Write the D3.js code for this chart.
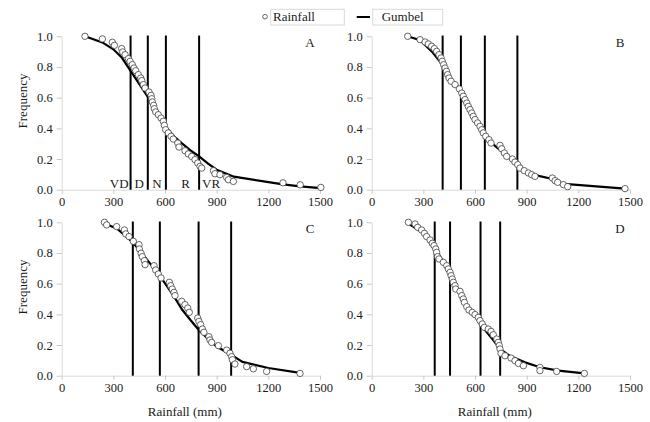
<!DOCTYPE html>
<html>
<head>
<meta charset="utf-8">
<script src="https://cdn.jsdelivr.net/npm/d3@7"></script>
<style>
body { margin: 0; background: #fff; }
svg text { font-family: "Liberation Serif", "Times New Roman", "DejaVu Serif", serif; fill: #1a1a1a; }
</style>
</head>
<body>
<div id="chart"></div>
<script>
// observed rainfall [mm, exceedance frequency] per station
var rainA = [[135,1.0],[236,0.983],[294,0.961],[306,0.941],[348,0.92],[354,0.898],[368,0.88],[387,0.854],[397,0.837],[410,0.815],[420,0.793],[430,0.776],[445,0.75],[459,0.728],[465,0.711],[474,0.685],[484,0.663],[507,0.637],[519,0.615],[523,0.593],[526,0.572],[534,0.55],[538,0.528],[546,0.507],[561,0.489],[577,0.467],[590,0.446],[596,0.42],[604,0.391],[619,0.37],[635,0.348],[648,0.33],[674,0.304],[681,0.278],[716,0.254],[735,0.233],[755,0.217],[774,0.196],[790,0.174],[803,0.152],[813,0.141],[881,0.124],[890,0.104],[919,0.098],[958,0.08],[968,0.065],[997,0.054],[1285,0.045],[1385,0.032],[1505,0.015]];
var rainB = [[209,1.0],[281,0.978],[310,0.963],[329,0.95],[348,0.935],[364,0.92],[377,0.902],[391,0.88],[403,0.859],[410,0.837],[418,0.815],[426,0.793],[434,0.772],[441,0.75],[449,0.728],[461,0.707],[484,0.685],[509,0.657],[523,0.63],[532,0.609],[542,0.587],[552,0.565],[561,0.543],[571,0.522],[581,0.5],[590,0.478],[600,0.457],[615,0.435],[629,0.413],[639,0.391],[648,0.37],[662,0.348],[681,0.326],[693,0.304],[745,0.289],[755,0.267],[770,0.239],[784,0.217],[817,0.2],[832,0.18],[848,0.163],[861,0.141],[886,0.124],[910,0.109],[929,0.098],[948,0.087],[1049,0.076],[1065,0.059],[1080,0.048],[1113,0.033],[1138,0.02],[1471,0.007]];
var rainC = [[248,1.0],[261,0.983],[319,0.972],[364,0.95],[372,0.924],[391,0.907],[416,0.876],[449,0.854],[451,0.826],[461,0.798],[468,0.776],[480,0.75],[484,0.724],[536,0.717],[546,0.689],[561,0.663],[577,0.637],[625,0.609],[633,0.587],[642,0.565],[652,0.543],[658,0.522],[697,0.485],[716,0.463],[732,0.441],[741,0.413],[790,0.376],[797,0.354],[807,0.333],[817,0.304],[826,0.283],[855,0.254],[861,0.233],[871,0.217],[910,0.196],[958,0.167],[977,0.146],[987,0.124],[991,0.104],[1006,0.076],[1074,0.059],[1113,0.045],[1190,0.028],[1384,0.015]];
var rainD = [[213,1.0],[252,0.989],[267,0.967],[290,0.95],[306,0.928],[319,0.907],[339,0.885],[352,0.863],[362,0.848],[372,0.826],[377,0.804],[383,0.776],[391,0.761],[416,0.739],[436,0.717],[445,0.696],[455,0.674],[461,0.652],[468,0.63],[474,0.609],[484,0.587],[488,0.565],[513,0.55],[523,0.522],[532,0.5],[538,0.478],[552,0.45],[565,0.428],[584,0.413],[600,0.398],[619,0.38],[629,0.359],[642,0.337],[654,0.315],[677,0.304],[693,0.289],[706,0.267],[726,0.239],[735,0.217],[741,0.196],[745,0.174],[751,0.146],[774,0.13],[809,0.115],[832,0.098],[852,0.08],[881,0.065],[977,0.054],[977,0.033],[1074,0.028],[1235,0.015]];

// fitted Gumbel curves
var gumA = [[135,1.0],[236,0.96],[300,0.915],[350,0.86],[400,0.775],[450,0.69],[500,0.605],[550,0.505],[600,0.415],[650,0.35],[700,0.3],[750,0.255],[800,0.215],[850,0.17],[900,0.13],[1000,0.085],[1285,0.035],[1385,0.022],[1505,0.01]];
var gumB = [[209,1.0],[281,0.975],[350,0.9],[410,0.815],[450,0.73],[517,0.652],[550,0.58],[600,0.47],[656,0.35],[700,0.3],[750,0.255],[800,0.205],[846,0.16],[900,0.12],[950,0.095],[1050,0.07],[1100,0.04],[1471,0.007]];
var gumC = [[252,0.99],[320,0.96],[412,0.87],[450,0.82],[500,0.75],[569,0.652],[650,0.52],[700,0.43],[750,0.36],[795,0.3],[850,0.24],[900,0.19],[983,0.137],[1050,0.09],[1200,0.05],[1384,0.018]];
var gumD = [[215,0.99],[300,0.93],[362,0.84],[400,0.77],[453,0.69],[500,0.56],[550,0.46],[600,0.39],[629,0.337],[700,0.24],[745,0.175],[800,0.13],[890,0.087],[977,0.055],[1084,0.033],[1235,0.015]];

// class limits (mm)
var limA = [400, 500, 605, 798];
var limB = [412, 518, 657, 846];
var limC = [413, 570, 795, 984];
var limD = [366, 455, 632, 746];

var classNames = ["VD", "D", "N", "R", "VR"];
var xTicks = [0, 300, 600, 900, 1200, 1500];
var yTicks = [0, 0.2, 0.4, 0.6, 0.8, 1.0];

var serif = "'Liberation Serif', 'Times New Roman', 'DejaVu Serif', serif";
var pw = 258.3, ph = 153.4;

var panels = [
  {id: "A", pts: rainA, gum: gumA, lim: limA, left: 61.7, top: 36.3, yLab: true, xLab: false, classes: true},
  {id: "B", pts: rainB, gum: gumB, lim: limB, left: 371.7, top: 36.3, yLab: false, xLab: false, classes: false},
  {id: "C", pts: rainC, gum: gumC, lim: limC, left: 61.7, top: 222.3, yLab: true, xLab: true, classes: false},
  {id: "D", pts: rainD, gum: gumD, lim: limD, left: 371.7, top: 222.3, yLab: false, xLab: true, classes: false}
];

var svg = d3.select("#chart")
  .append("svg")
  .attr("width", 650)
  .attr("height", 422)
  .style("font-family", serif);

var x = d3.scaleLinear().domain([0, 1500]).range([0, pw]);
var y = d3.scaleLinear().domain([0, 1]).range([ph, 0]);

var line = d3.line()
  .x(function(d) { return x(d[0]); })
  .y(function(d) { return y(d[1]); });

panels.forEach(function(p) {
  var g = svg.append("g").attr("transform", "translate(" + p.left + "," + p.top + ")");

  // axes
  var ax = g.append("g")
    .attr("transform", "translate(0," + ph + ")")
    .call(d3.axisBottom(x).tickValues(xTicks).tickSize(4).tickSizeOuter(0).tickPadding(3).tickFormat(d3.format("d")));
  var ay = g.append("g")
    .call(d3.axisLeft(y).tickValues(yTicks).tickSize(5).tickSizeOuter(0).tickPadding(4).tickFormat(d3.format(".1f")));
  [ax, ay].forEach(function(a) {
    a.attr("font-family", serif).attr("font-size", 12.5);
    a.select(".domain").attr("stroke", "#d9d9d9");
    a.selectAll(".tick line").attr("stroke", "#c8c8c8");
    a.selectAll(".tick text").attr("fill", "#1a1a1a");
  });

  // class limits
  g.selectAll(".lim")
    .data(p.lim)
    .enter()
    .append("line")
    .attr("x1", function(d) { return x(d); })
    .attr("x2", function(d) { return x(d); })
    .attr("y1", y(0))
    .attr("y2", y(1.005))
    .attr("stroke", "#000")
    .attr("stroke-width", 2);

  // gumbel curve
  g.append("path")
    .datum(p.gum)
    .attr("d", line)
    .attr("fill", "none")
    .attr("stroke", "#000")
    .attr("stroke-width", 2.2);

  // observations
  g.selectAll(".pt")
    .data(p.pts)
    .enter()
    .append("circle")
    .attr("cx", function(d) { return x(d[0]); })
    .attr("cy", function(d) { return y(d[1]); })
    .attr("r", 3.2)
    .attr("fill", "#fff")
    .attr("stroke", "#404040")
    .attr("stroke-width", 0.8);

  g.append("text")
    .attr("x", pw - 10)
    .attr("y", 11)
    .attr("text-anchor", "middle")
    .style("font-size", "13px")
    .text(p.id);

  if (p.classes) {
    var lx = [x(p.lim[0]) - 2,
              (x(p.lim[0]) + x(p.lim[1])) / 2,
              (x(p.lim[1]) + x(p.lim[2])) / 2,
              (x(p.lim[2]) + x(p.lim[3])) / 2 + 3,
              x(p.lim[3]) + 3];
    var anchors = ["end", "middle", "middle", "middle", "start"];
    g.selectAll(".cls")
      .data(classNames)
      .enter()
      .append("text")
      .attr("x", function(d, i) { return lx[i]; })
      .attr("y", ph - 2)
      .attr("text-anchor", function(d, i) { return anchors[i]; })
      .style("font-size", "13px")
      .text(function(d) { return d; });
  }

  if (p.yLab) {
    g.append("text")
      .attr("transform", "translate(" + (22 - p.left) + "," + (ph / 2 - 12) + ") rotate(-90)")
      .attr("text-anchor", "middle")
      .attr("dy", "0.35em")
      .style("font-size", "13px")
      .text("Frequency");
  }
  if (p.xLab) {
    g.append("text")
      .attr("x", pw / 2 - 6)
      .attr("y", ph + 40)
      .attr("text-anchor", "middle")
      .style("font-size", "13px")
      .text("Rainfall (mm)");
  }
});

// legend
var leg = svg.append("g");
leg.append("circle").attr("cx", 265).attr("cy", 16.7).attr("r", 2.3)
  .attr("fill", "#fff").attr("stroke", "#404040").attr("stroke-width", 0.8);
leg.append("rect").attr("x", 270.7).attr("y", 9.3).attr("width", 73.6).attr("height", 15.7)
  .attr("fill", "none").attr("stroke", "#d9d9d9");
leg.append("text").attr("x", 273).attr("y", 21.3).style("font-size", "13px").text("Rainfall");
leg.append("line").attr("x1", 356.7).attr("x2", 370).attr("y1", 17).attr("y2", 17)
  .attr("stroke", "#000").attr("stroke-width", 2);
leg.append("rect").attr("x", 372.7).attr("y", 9.3).attr("width", 70).attr("height", 15.7)
  .attr("fill", "none").attr("stroke", "#d9d9d9");
leg.append("text").attr("x", 381.7).attr("y", 21.3).style("font-size", "13px").text("Gumbel");
</script>
</body>
</html>
